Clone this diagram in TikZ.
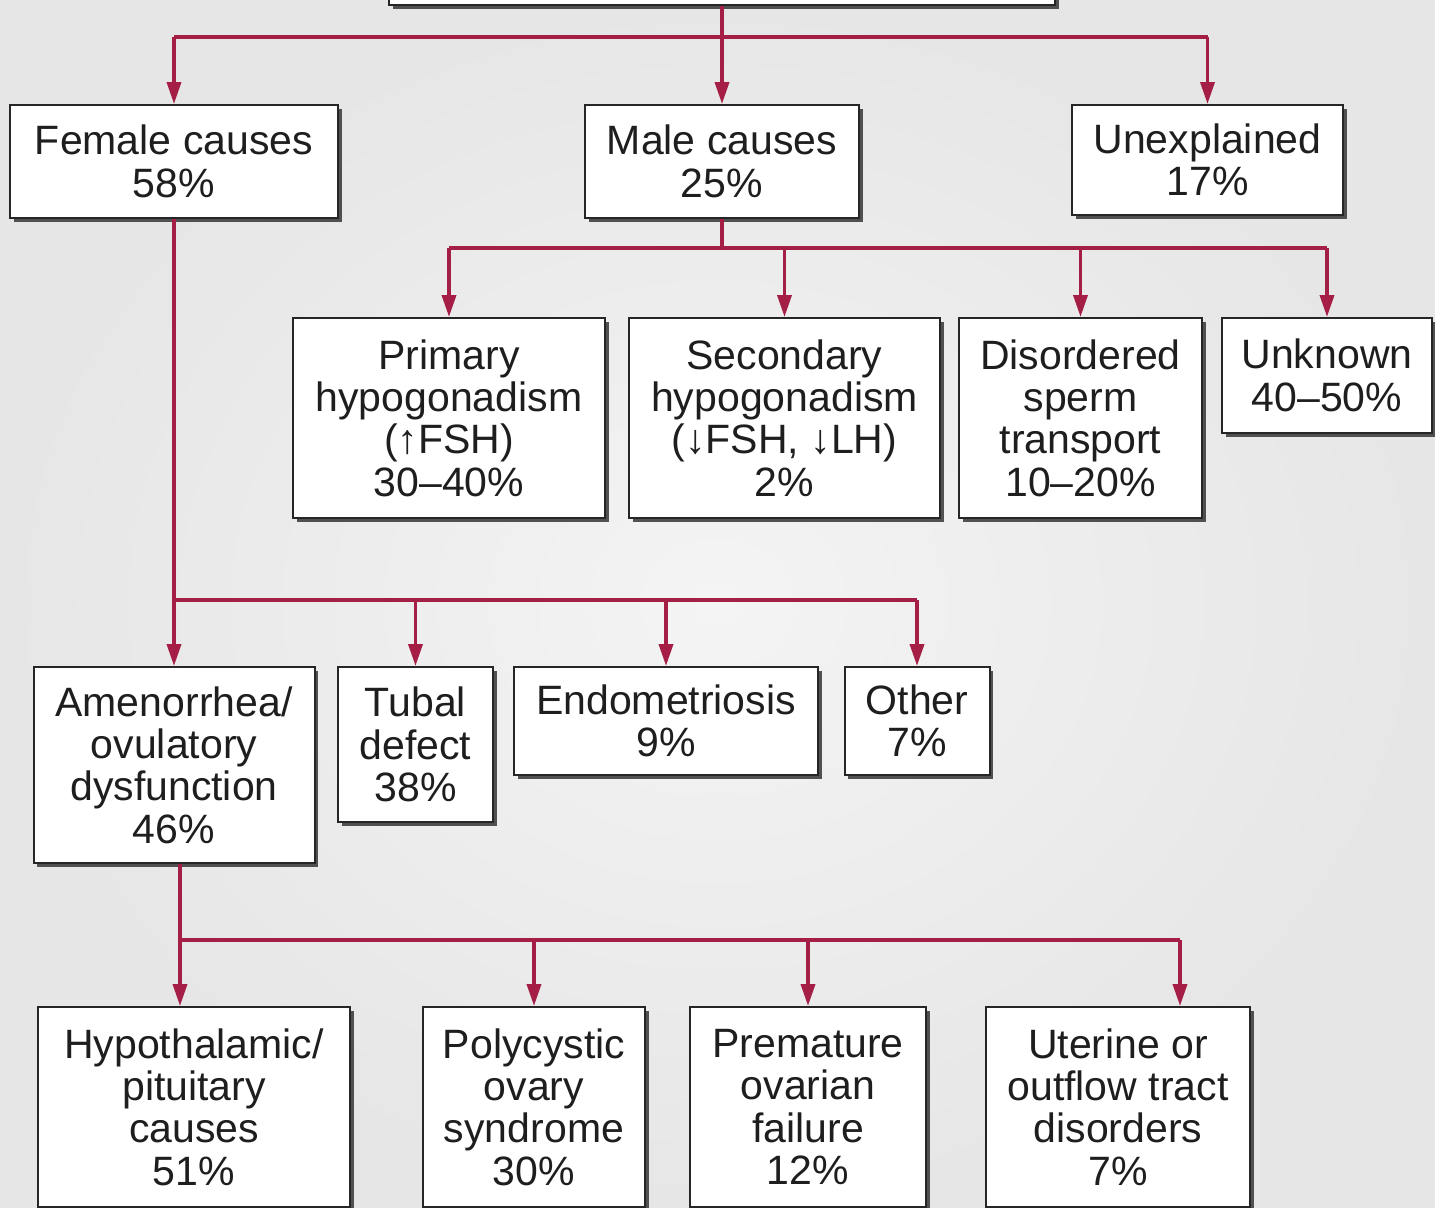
\documentclass[tikz,border=0pt]{standalone}
\usepackage{fontspec}
\setmainfont{Liberation Sans}
\usetikzlibrary{arrows.meta,shadows}
\definecolor{bgc}{HTML}{E6E6E6}
\definecolor{bgin}{HTML}{F4F4F4}
\definecolor{redline}{HTML}{A51E46}
\definecolor{txt}{HTML}{1E1E1E}
\tikzset{
  x=0.5pt, y=-0.5pt,
  box/.style={draw=black!85, line width=1pt, fill=white, align=center, inner sep=0pt,
    text=txt, font=\fontsize{20.5}{21.2}\selectfont,
    drop shadow={shadow xshift=1.8pt, shadow yshift=-1.8pt, fill=black!75, opacity=0.9}},
  sz/.style 2 args={minimum width=#1*0.5pt, minimum height=#2*0.5pt},
  ln/.style={draw=redline, line width=1.8pt},
  arr/.style={ln, -{Triangle[width=7pt,length=11pt]}}
}
\begin{document}
\begin{tikzpicture}
\useasboundingbox (0,0) rectangle (1435,1207);
\clip (0,0) rectangle (1435,1207);
\fill[bgc] (0,0) rectangle (1435,1207);
\shade[inner color=bgin, outer color=bgc] (0,0) rectangle (1435,1207);

% top row
\node[box, sz={666}{60}] (top) at (722,-25) {};
\node[box, sz={328}{113}] (fem) at (174,161.5) {Female causes\\58\%};
\node[box, sz={274}{113}] (male) at (722,161.5) {Male causes\\25\%};
\node[box, sz={271}{110}] (une) at (1207.5,160) {Unexplained\\17\%};

% male causes
\node[box, sz={312}{200}] (pri) at (449,418) {Primary\\hypogonadism\\(↑FSH)\\30–40\%};
\node[box, sz={311}{200}] (sec) at (784.5,418) {Secondary\\hypogonadism\\(↓FSH, ↓LH)\\2\%};
\node[box, sz={243}{200}] (dis) at (1080.5,418) {Disordered\\sperm\\transport\\10–20\%};
\node[box, sz={210}{115}] (unk) at (1327,375.5) {Unknown\\40–50\%};

% female causes
\node[box, sz={281}{196}] (amen) at (174,765) {Amenorrhea/\\ovulatory\\dysfunction\\46\%};
\node[box, sz={155}{155}] (tub) at (415.5,744.5) {Tubal\\defect\\38\%};
\node[box, sz={304}{108}] (endo) at (666,721) {Endometriosis\\9\%};
\node[box, sz={145}{108}] (oth) at (917,721) {Other\\7\%};

% ovulatory dysfunction
\node[box, sz={312}{200}] (hyp) at (194,1107) {Hypothalamic/\\pituitary\\causes\\51\%};
\node[box, sz={222}{200}] (pcos) at (534,1107) {Polycystic\\ovary\\syndrome\\30\%};
\node[box, sz={236}{200}] (pof) at (808,1107) {Premature\\ovarian\\failure\\12\%};
\node[box, sz={264}{200}] (ute) at (1118,1107) {Uterine or\\outflow tract\\disorders\\7\%};

% connectors level 1
\coordinate (r1) at (722,37);
\draw[ln] (fem.north |- r1) -- (une.north |- r1);
\draw[arr] (top.south) -- (male.north);
\draw[arr] (fem.north |- r1) -- (fem.north);
\draw[arr] (une.north |- r1) -- (une.north);

% connectors male
\coordinate (r2) at (722,248);
\draw[ln] (male.south) -- (r2);
\draw[ln] (pri.north |- r2) -- (unk.north |- r2);
\foreach \n in {pri,sec,dis,unk} \draw[arr] (\n.north |- r2) -- (\n.north);

% connectors female
\coordinate (r3) at (174,600);
\draw[arr] (fem.south) -- (amen.north);
\draw[ln] (r3) -- (oth.north |- r3);
\foreach \n in {tub,endo,oth} \draw[arr] (\n.north |- r3) -- (\n.north);

% connectors ovulatory
\coordinate (r4) at (180,940);
\coordinate (r4e) at (1180,940);
\draw[ln] (amen.south -| r4) -- (r4);
\draw[ln] (r4) -- (r4e);
\draw[arr] (r4) -- (r4 |- hyp.north);
\draw[arr] (pcos.north |- r4) -- (pcos.north);
\draw[arr] (pof.north |- r4) -- (pof.north);
\draw[arr] (r4e) -- (r4e |- ute.north);
\end{tikzpicture}
\end{document}
